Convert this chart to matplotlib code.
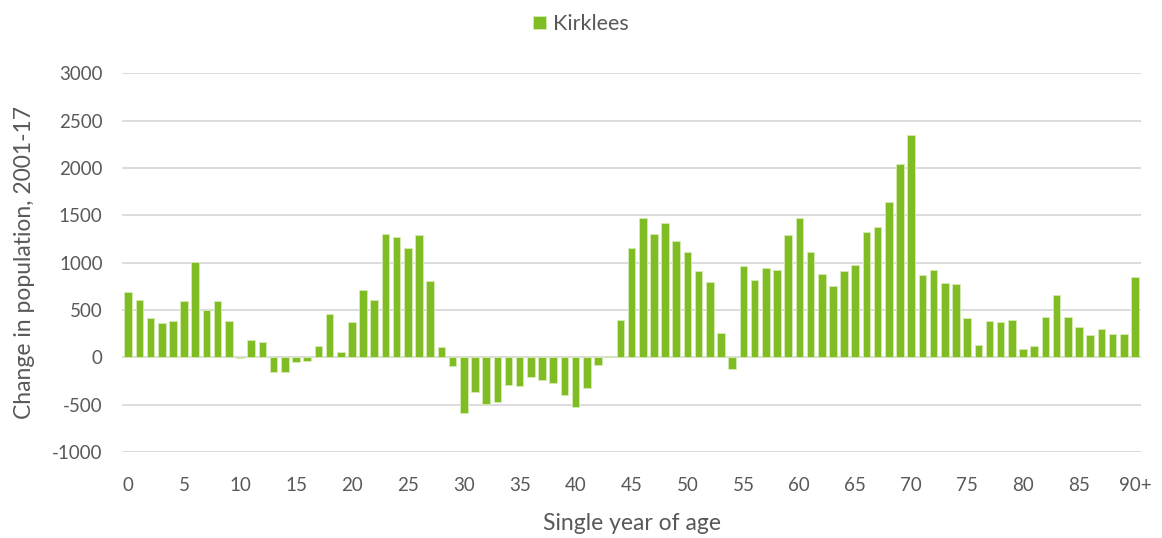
import matplotlib
matplotlib.use("Agg")
import matplotlib.pyplot as plt
import numpy as np

plt.rcParams['font.family'] = ['Lato', 'DejaVu Sans']

ages = list(range(91))
tick_positions = list(range(0, 91, 5))
tick_labels = [str(a) for a in range(0, 90, 5)] + ["90+"]

change = [
    690, 602, 410, 364, 378, 592, 1009, 494, 592, 378,
    -10, 179, 161, -154, -154, -53, -39, 116, 452, 53,
    368, 711, 602, 1303, 1268, 1149, 1292, 809, 105, -95,
    -585, -371, -494, -476, -294, -301, -214, -245, -270, -396,
    -525, -326, -84, 10, 389, 1156, 1468, 1303, 1415, 1226,
    1107, 907, 792, 256, -126, 967, 816, 939, 925, 1296,
    1468, 1107, 879, 757, 907, 977, 1324, 1377, 1636, 2046,
    2347, 872, 918, 785, 771, 413, 133, 385, 368, 396,
    91, 119, 424, 655, 424, 315, 231, 294, 242, 245,
    844,
]

y_ticks = list(range(-1000, 3001, 500))

green = "#80BC23"
text_color = "#595959"

fig = plt.figure(figsize=(11.62, 5.38), dpi=100)
ax = fig.add_axes([0.105, 0.160, 0.877, 0.704])

ax.bar(ages, change, width=0.68, color=green, edgecolor="#d6ecb5", linewidth=0.6,
       label="Kirklees", zorder=3)

ax.set_ylim(-1000, 3000)
ax.set_xlim(-0.55, 90.55)
ax.set_yticks(y_ticks)
ax.set_yticklabels([str(v) for v in y_ticks])
ax.set_xticks(tick_positions)
ax.set_xticklabels(tick_labels)
ax.grid(axis="y", color="#d9d9d9", linewidth=1.3, zorder=0)
ax.set_axisbelow(True)
for s in ax.spines.values():
    s.set_visible(False)
ax.tick_params(axis="both", length=0, labelsize=13.5, colors=text_color)
ax.tick_params(axis="y", pad=14)
ax.tick_params(axis="x", pad=18)

ax.set_xlabel("Single year of age", fontsize=16.5, color=text_color, labelpad=14)
ax.set_ylabel("Change in population, 2001-17", fontsize=16.5, color=text_color, labelpad=12)

leg = fig.legend(loc="upper center", bbox_to_anchor=(0.5, 1.01), frameon=False,
                 fontsize=15.5, handlelength=0.6, handleheight=0.6, handletextpad=0.3)
for t in leg.get_texts():
    t.set_color(text_color)

fig.savefig("out.png", dpi=100)
